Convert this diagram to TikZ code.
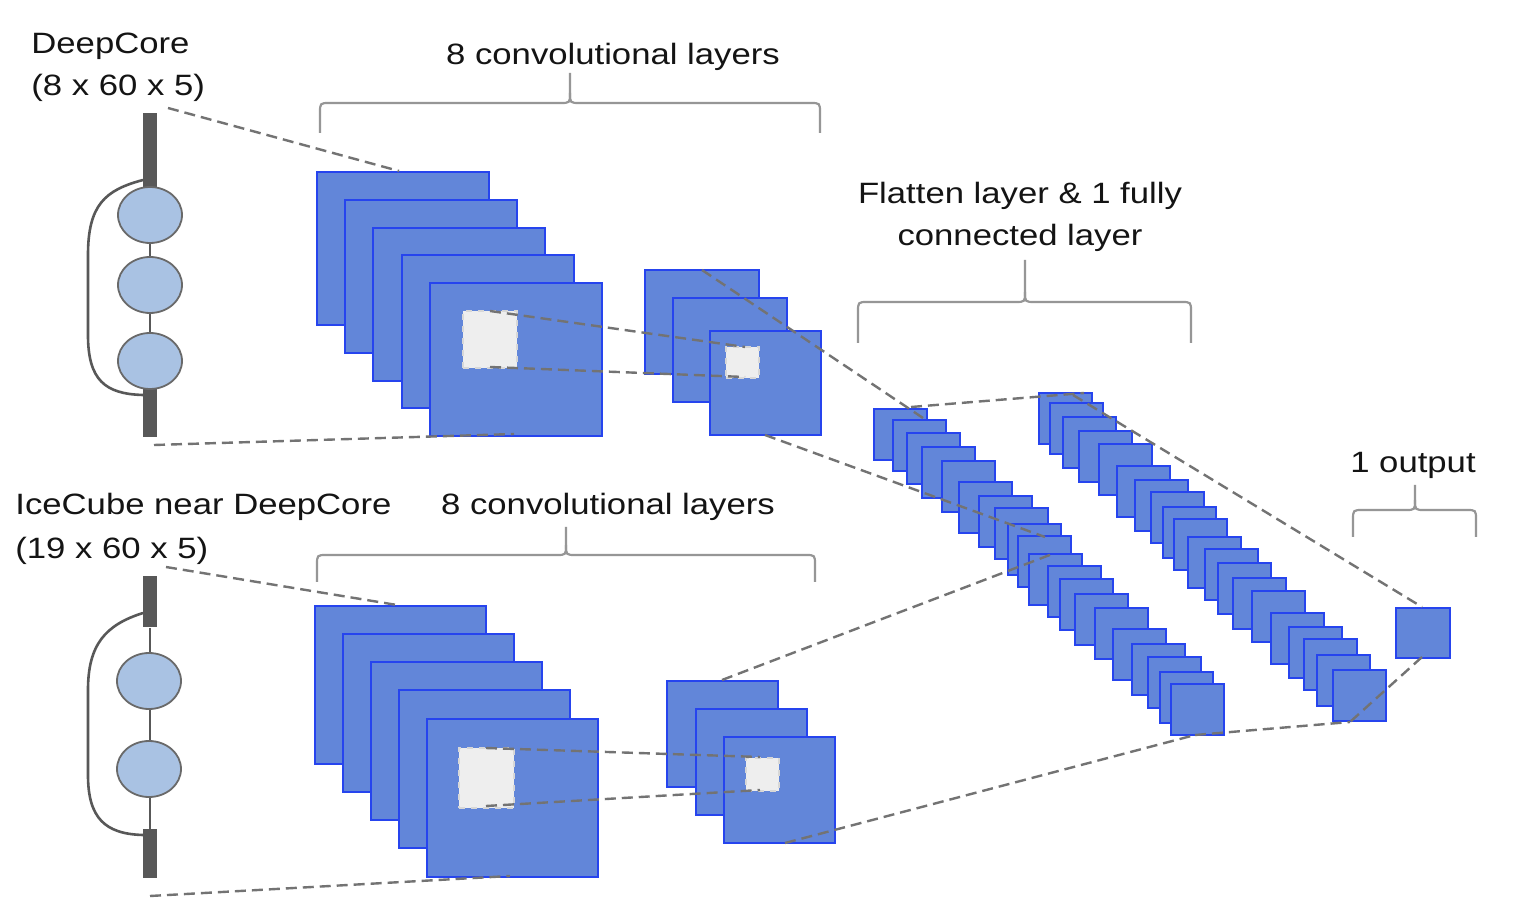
\documentclass[tikz,border=0pt]{standalone}
\usepackage{fontspec}
\setmainfont{Liberation Sans}
\usetikzlibrary{shapes.geometric}
\definecolor{cfill}{RGB}{98,134,217}
\definecolor{cedge}{RGB}{38,68,238}
\definecolor{cwhite}{RGB}{238,238,238}
\definecolor{cwedge}{RGB}{215,215,215}
\definecolor{cnode}{RGB}{169,194,227}
\definecolor{cdark}{RGB}{88,88,88}
\definecolor{cdash}{RGB}{115,115,115}
\definecolor{cbrace}{RGB}{150,150,150}
\newcommand{\wide}[1]{\scalebox{1.18}[1]{#1}}
\newcommand{\mybrace}[6]{% xL xR xm yh ytip yend
  \draw[bracestyle] (#1,#6) -- (#1,#4+10) .. controls (#1,#4) .. (#1+10,#4) -- (#3-10,#4) .. controls (#3,#4) .. (#3,#4-10) -- (#3,#5);
  \draw[bracestyle] (#2,#6) -- (#2,#4+10) .. controls (#2,#4) .. (#2-10,#4) -- (#3+10,#4) .. controls (#3,#4) .. (#3,#4-10);
}
\begin{document}
\begin{tikzpicture}[x=0.5pt,y=-0.5pt,
  font=\fontsize{14.7}{21}\selectfont,
  lbl/.style={inner sep=0, anchor=base west, text=black!92},
  lblc/.style={inner sep=0, anchor=base, text=black!92},
  sq/.style={draw=cedge, fill=cfill, line width=1pt, inner sep=0, anchor=north west},
  bigsq/.style={sq, minimum width=86pt, minimum height=76.5pt},
  bigsqb/.style={sq, minimum width=85.5pt, minimum height=79pt},
  midsq/.style={sq, minimum width=57pt, minimum height=52pt},
  midsqb/.style={sq, minimum width=55.5pt, minimum height=53pt},
  flatsq/.style={sq, minimum width=26.5pt, minimum height=25.5pt},
  outsq/.style={sq, minimum width=27pt, minimum height=25pt},
  patch/.style={draw=cwedge, fill=cwhite, dashed, line width=0.8pt, inner sep=0, anchor=north west},
  bar/.style={fill=cdark, inner sep=0, minimum width=7pt, anchor=north},
  dom/.style={ellipse, draw=cdark!90, fill=cnode, line width=0.9pt, minimum width=32pt, minimum height=28pt, inner sep=0},
  spine/.style={draw=cdark, line width=1.3pt},
  link/.style={draw=cdash, dash pattern=on 5.5pt off 3pt, line width=1.2pt},
  bracestyle/.style={draw=cbrace, line width=1.1pt}
]
\fill[white] (0,0) rectangle (1520,924);
\useasboundingbox (0,0) rectangle (1520,924);

% ---------- labels ----------
\node[lbl] (tDC1) at (31,54) {\wide{DeepCore}};
\node[lbl] (tDC2) at (31,96) {\wide{(8 x 60 x 5)}};
\node[lbl] (tIC1) at (15,515) {\wide{IceCube near DeepCore}};
\node[lbl] (tIC2) at (15,559) {\wide{(19 x 60 x 5)}};
\node[lblc] (tConvA) at (613,65) {\wide{8 convolutional layers}};
\node[lblc] (tConvB) at (608,515) {\wide{8 convolutional layers}};
\node[lblc] (tFl1) at (1020,204) {\wide{Flatten layer \& 1 fully}};
\node[lblc] (tFl2) at (1020,246) {\wide{connected layer}};
\node[lblc] (tOut) at (1413,473) {\wide{1 output}};

% ---------- braces ----------
\mybrace{320}{820}{570}{103}{73}{133}
\mybrace{317}{815}{566}{555}{527}{582}
\mybrace{858}{1191}{1025}{302}{260}{343}
\mybrace{1353}{1476}{1415}{510}{485}{537}

% ---------- top detector ----------
\node[bar, minimum height=38.5pt] (dTa) at (150,113) {};
\node[bar, minimum height=24.5pt] (dTb) at (150,388) {};
\draw[spine] (dTa.south) -- (dTb.north);
\coordinate (cTa) at (143,180);
\coordinate (cTb) at (143,395);
\draw[spine] (cTa) .. controls (105,190) and (88,205) .. (88,255) -- (88,335) .. controls (88,380) and (105,394) .. (cTb);
\node[dom] (oT1) at (150,215) {};
\node[dom] (oT2) at (150,285) {};
\node[dom] (oT3) at (150,361) {};

% ---------- bottom detector ----------
\node[bar, minimum height=25.5pt] (dBa) at (150,576) {};
\node[bar, minimum height=24.5pt] (dBb) at (150,829) {};
\draw[spine] (dBa.south) -- (dBb.north);
\coordinate (cBa) at (143,613);
\coordinate (cBb) at (143,835);
\draw[spine] (cBa) .. controls (105,625) and (88,645) .. (88,690) -- (88,775) .. controls (88,818) and (105,834) .. (cBb);
\node[dom] (oB1) at (149,681) {};
\node[dom] (oB2) at (149,769) {};

% ---------- top conv stacks ----------
\node[bigsq] (tA1) at (316,171) {};
\node[bigsq] (tA2) at (344,199) {};
\node[bigsq] (tA3) at (372,227) {};
\node[bigsq] (tA4) at (401,254) {};
\node[bigsq] (tA5) at (429,282) {};
\node[patch, minimum width=27pt, minimum height=28.5pt] (pA) at (462,310) {};
\node[midsq] (tB1) at (644,269) {};
\node[midsq] (tB2) at (672,297) {};
\node[midsq, minimum width=55.5pt] (tB3) at (709,330) {};
\node[patch, minimum width=16.5pt, minimum height=15.5pt] (pB) at (725,346) {};

% ---------- bottom conv stacks ----------
\node[bigsqb] (bA1) at (314,605) {};
\node[bigsqb] (bA2) at (342,633) {};
\node[bigsqb] (bA3) at (370,661) {};
\node[bigsqb] (bA4) at (398,689) {};
\node[bigsqb] (bA5) at (426,718) {};
\node[patch, minimum width=27.5pt, minimum height=30pt] (pC) at (458,747) {};
\node[midsqb] (bB1) at (666,680) {};
\node[midsqb] (bB2) at (695,708) {};
\node[midsqb] (bB3) at (723,736) {};
\node[patch, minimum width=16.5pt, minimum height=16.5pt] (pD) at (745,757) {};

% ---------- flatten stacks ----------
\foreach \x/\y [count=\i] in {873/408, 892/419, 906/432, 921/446, 941/460, 958/481, 978/495, 994/507, 1007/523, 1017/535, 1028/553, 1047/565, 1059/578, 1074/593, 1094/607, 1112/628, 1131/643, 1147/656, 1159/671, 1170/683}
  \node[flatsq] (fa\i) at (\x,\y) {};
\foreach \x/\y [count=\i] in {1038/392, 1049/402, 1062/416, 1078/430, 1098/443, 1116/465, 1134/479, 1150/491, 1162/506, 1173/518, 1187/536, 1204/548, 1217/562, 1232/577, 1251/590, 1270/612, 1288/626, 1303/638, 1316/654, 1332/669}
  \node[flatsq] (fb\i) at (\x,\y) {};
\node[outsq] (out) at (1395,607) {};

% ---------- connector end points ----------
\coordinate (kT1) at (168,108);   \coordinate (kT2) at (399,171);
\coordinate (kT3) at (154,445);   \coordinate (kT4) at (514,434);
\coordinate (kT5) at (490,311);   \coordinate (kT6) at (745,347);
\coordinate (kT7) at (490,367);   \coordinate (kT8) at (745,377);
\coordinate (kT9) at (702,270);   \coordinate (kT10) at (923,418);
\coordinate (kT11) at (765,435);  \coordinate (kT12) at (1045,537);
\coordinate (kF1) at (911,407);   \coordinate (kF2) at (1084,393);
\coordinate (kF3) at (1073,395);  \coordinate (kO1) at (1422,607);
\coordinate (kO2) at (1422,657);  \coordinate (kF4) at (1350,722);
\coordinate (kF5) at (1195,735);
\coordinate (kB1) at (166,567);   \coordinate (kB2) at (397,605);
\coordinate (kB3) at (150,896);   \coordinate (kB4) at (510,876);
\coordinate (kB5) at (486,748);   \coordinate (kB6) at (760,757);
\coordinate (kB7) at (486,806);   \coordinate (kB8) at (760,790);
\coordinate (kB9) at (722,680);   \coordinate (kB10) at (1055,553);
\coordinate (kB11) at (785,843);

% ---------- dashed connectors ----------
\draw[link] (kT1) -- (kT2);
\draw[link] (kT3) -- (kT4);
\draw[link] (kT5) -- (kT6);
\draw[link] (kT7) -- (kT8);
\draw[link] (kT9) -- (kT10);
\draw[link] (kT11) -- (kT12);
\draw[link] (kF1) -- (kF2);
\draw[link] (kF3) -- (kO1);
\draw[link] (kO2) -- (kF4);
\draw[link] (kF5) -- (kF4);
\draw[link] (kB1) -- (kB2);
\draw[link] (kB3) -- (kB4);
\draw[link] (kB5) -- (kB6);
\draw[link] (kB7) -- (kB8);
\draw[link] (kB9) -- (kB10);
\draw[link] (kB11) -- (kF5);
\end{tikzpicture}
\end{document}
